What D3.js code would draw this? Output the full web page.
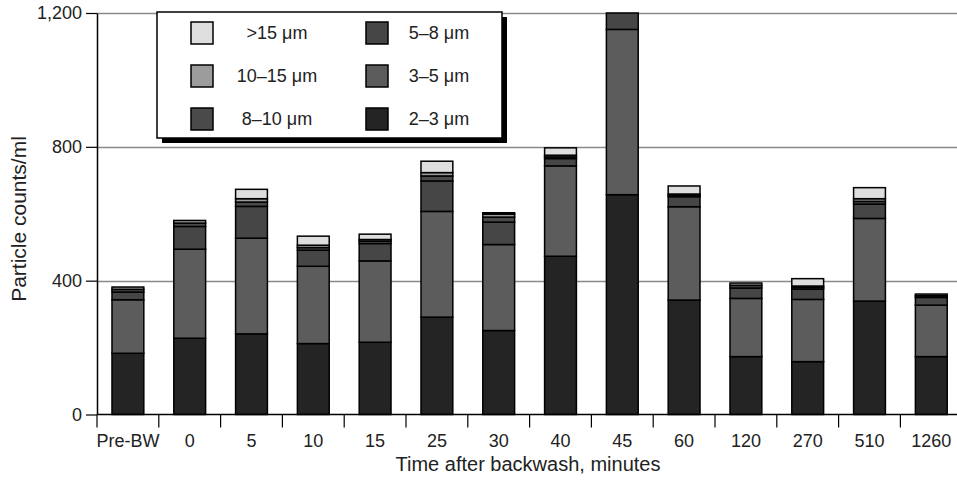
<!DOCTYPE html>
<html>
<head>
<meta charset="utf-8">
<script src="https://cdn.jsdelivr.net/npm/d3@7"></script>
<style>
  body { margin: 0; background: #fff; }
  svg { display: block; font-family: "Liberation Sans", Arial, Helvetica, sans-serif; }
</style>
</head>
<body>
<div id="chart"></div>
<script>
'use strict';

// sampling times after backwash
const categories = ['Pre-BW', '0', '5', '10', '15', '25', '30', '40', '45', '60', '120', '270', '510', '1260'];

// particle counts per ml, one array per size bin (stacked bottom -> top)
const bin2to3   = [183, 228, 241, 212, 216, 291, 251, 473, 657, 342, 173, 158, 339, 173];
const bin3to5   = [160, 266, 286, 231, 243, 316, 257, 270, 494, 279, 174, 186, 247, 154];
const bin5to8   = [ 23,  68,  95,  48,  52,  91,  67,  22,  49,  30,  31,  31,  43,  23];
const bin8to10  = [  8,  10,  13,   8,   7,  15,  15,   5,   0,   4,   8,   5,   8,   5];
const bin10to15 = [  7,   8,  10,   7,   5,  10,   9,   5,   0,   4,   7,   4,   8,   5];
const binOver15 = [  0,   0,  28,  27,  16,  34,   4,  22,   0,  24,   0,  22,  33,   0];

const binKeys   = ['2–3 μm', '3–5 μm', '5–8 μm', '8–10 μm', '10–15 μm', '>15 μm'];
const binValues = [bin2to3, bin3to5, bin5to8, bin8to10, bin10to15, binOver15];

const yTicks = [0, 400, 800, 1200];

const fills = {
    '2–3 μm': '#242424',
    '3–5 μm': '#5c5c5c',
    '5–8 μm': '#464646',
    '8–10 μm': '#4a4a4a',
    '10–15 μm': '#9c9c9c',
    '>15 μm': '#dedede'
};

// legend is laid out in two columns, three rows
const legendCols = [['>15 μm', '10–15 μm', '8–10 μm'], ['5–8 μm', '3–5 μm', '2–3 μm']];

const W = 957, H = 483;
const margin = {top: 13, right: 0, bottom: 68, left: 97};
const step = 61.8;

const svg = d3.select('#chart').append('svg')
    .attr('width', W)
    .attr('height', H);

// build rows for d3.stack
let table = categories.map(function (c, i) {
    let row = {time: c};
    binKeys.forEach(function (k, j) { row[k] = binValues[j][i]; });
    return row;
});
let series = d3.stack().keys(binKeys)(table);

let x = d3.scaleBand()
    .domain(categories)
    .range([margin.left, margin.left + step * categories.length])
    .paddingInner(0.485)
    .paddingOuter(0.2425);

let y = d3.scaleLinear()
    .domain([0, 1200])
    .range([H - margin.bottom - 0.5, margin.top]);

// horizontal grid lines
svg.append('g').selectAll('line')
    .data(yTicks.filter(function (d) { return d > 0; }))
    .enter().append('line')
    .attr('x1', margin.left)
    .attr('x2', W)
    .attr('y1', function (d) { return Math.round(y(d)) + 0.5; })
    .attr('y2', function (d) { return Math.round(y(d)) + 0.5; })
    .attr('stroke', '#8a8a8a')
    .attr('stroke-width', 1.5);

// stacked bars
svg.append('g').selectAll('g')
    .data(series)
    .enter().append('g')
    .attr('fill', function (s) { return fills[s.key]; })
    .selectAll('rect')
    .data(function (s) { return s; })
    .enter().append('rect')
    .attr('x', function (d) { return x(d.data.time); })
    .attr('y', function (d) { return y(d[1]); })
    .attr('width', x.bandwidth())
    .attr('height', function (d) { return Math.max(0, y(d[0]) - y(d[1])); })
    .attr('stroke', '#000')
    .attr('stroke-width', function (d) { return d[1] > d[0] ? 1.5 : 0; });

// y axis
let yAxis = svg.append('g')
    .attr('transform', 'translate(' + margin.left + ',0)')
    .call(d3.axisLeft(y).tickValues(yTicks).tickSize(11).tickSizeOuter(0).tickPadding(4)
        .tickFormat(d3.format(',')));
yAxis.select('.domain').attr('stroke', '#000').attr('stroke-width', 1.5);
yAxis.selectAll('.tick line').attr('stroke', '#000').attr('stroke-width', 1.2);
yAxis.selectAll('.tick text')
    .attr('font-size', 18)
    .attr('font-family', '"Liberation Sans", Arial, sans-serif')
    .attr('fill', '#222');

// x axis: labels under bars, ticks between bars
let xAxis = svg.append('g')
    .attr('transform', 'translate(0,' + y(0) + ')')
    .call(d3.axisBottom(x).tickSize(0).tickPadding(20));
xAxis.select('.domain').remove();
xAxis.selectAll('.tick text')
    .attr('font-size', 18)
    .attr('font-family', '"Liberation Sans", Arial, sans-serif')
    .attr('fill', '#222');

svg.append('line')
    .attr('x1', margin.left)
    .attr('x2', W)
    .attr('y1', y(0))
    .attr('y2', y(0))
    .attr('stroke', '#000')
    .attr('stroke-width', 1.5);

let x0 = x.range()[0];
svg.append('g').selectAll('line')
    .data(d3.range(categories.length + 1))
    .enter().append('line')
    .attr('x1', function (i) { return x0 + i * x.step(); })
    .attr('x2', function (i) { return x0 + i * x.step(); })
    .attr('y1', y(0))
    .attr('y2', y(0) + 13)
    .attr('stroke', '#000')
    .attr('stroke-width', 1.2);

// axis titles
svg.append('text')
    .attr('x', 528)
    .attr('y', 471)
    .attr('text-anchor', 'middle')
    .attr('font-size', 20)
    .attr('fill', '#222')
    .text('Time after backwash, minutes');

svg.append('text')
    .attr('transform', 'translate(26,219) rotate(-90)')
    .attr('text-anchor', 'middle')
    .attr('font-size', 21)
    .attr('fill', '#222')
    .text('Particle counts/ml');

// legend box with drop shadow
let legend = svg.append('g').attr('transform', 'translate(157,12)');
legend.append('rect')
    .attr('x', 5).attr('y', 5)
    .attr('width', 345).attr('height', 126)
    .attr('fill', '#000');
legend.append('rect')
    .attr('width', 345).attr('height', 126)
    .attr('fill', '#fff')
    .attr('stroke', '#000')
    .attr('stroke-width', 1.5);

let colSwatchX = [34, 209];
let colTextX = [120, 282];
let rowY = [21, 64, 107];

legendCols.forEach(function (col, ci) {
    col.forEach(function (key, ri) {
        legend.append('rect')
            .attr('x', colSwatchX[ci])
            .attr('y', rowY[ri] - 11)
            .attr('width', 22)
            .attr('height', 22)
            .attr('fill', fills[key])
            .attr('stroke', '#000')
            .attr('stroke-width', 1.5);
        legend.append('text')
            .attr('x', colTextX[ci])
            .attr('y', rowY[ri])
            .attr('dy', '0.35em')
            .attr('text-anchor', 'middle')
            .attr('font-size', 18)
            .attr('fill', '#222')
            .text(key);
    });
});
</script>
</body>
</html>
